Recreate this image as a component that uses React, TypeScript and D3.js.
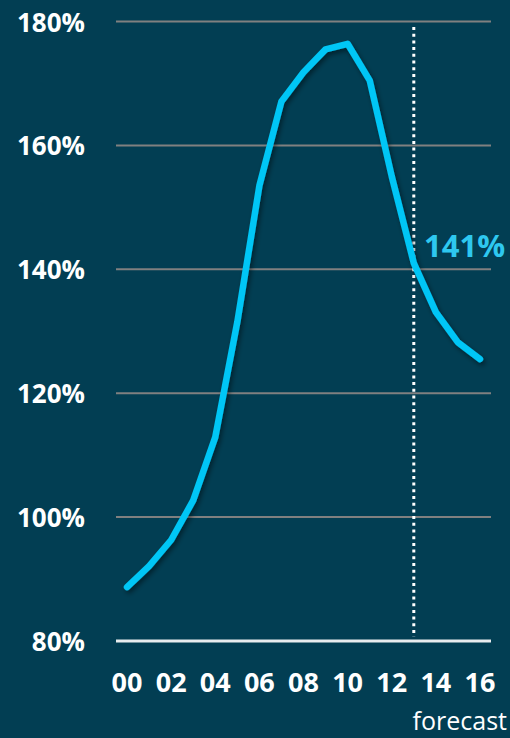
import * as d3 from 'd3'
import React from 'react'

const years = ['00', '01', '02', '03', '04', '05', '06', '07', '08', '09', '10', '11', '12', '13', '14', '15', '16']
const ratio = [88.7, 92.1, 96.3, 102.7, 112.9, 131.5, 153.5, 167.1, 171.8, 175.5, 176.4, 170.5, 155, 141, 133.1, 128.2, 125.5]
const yTicks = [80, 100, 120, 140, 160, 180]
const xLabels = ['00', '02', '04', '06', '08', '10', '12', '14', '16']
const forecastFrom = '13'
const forecastLabel = '141%'

const W = 510
const H = 738

const App = () => {
  const x = d3.scalePoint().domain(years).range([116, 491]).padding(0.5)
  const y = d3.scaleLinear().domain([80, 180]).range([641, 21.5])
  const line = d3
    .line<number>()
    .x((d, i) => x(years[i]))
    .y((d) => y(d))
  const fx = x(forecastFrom)

  return (
    <svg width={W} height={H} style={{ position: 'absolute', left: 0, top: 0 }}>
      <defs>
        <filter id="shadow" x="-20%" y="-20%" width="140%" height="140%">
          <feDropShadow dx="2" dy="3" stdDeviation="2.5" floodColor="#000" floodOpacity="0.45" />
        </filter>
      </defs>
      <rect width={W} height={H} fill="#023e53" />
      {yTicks.map((t) => (
        <g key={t}>
          {t > 80 && <line x1={116} x2={491} y1={y(t)} y2={y(t)} stroke="#808080" strokeWidth={2} />}
          <text
            x={85}
            y={y(t) + 10}
            textAnchor="end"
            fill="#ffffff"
            fontFamily="'Open Sans', sans-serif"
            fontWeight="bold"
            fontSize={26}
          >
            {t}%
          </text>
        </g>
      ))}
      <line x1={fx} x2={fx} y1={27} y2={637} stroke="#ffffff" strokeWidth={3} strokeDasharray="3 3.7" />
      <line x1={116} x2={491} y1={y(80)} y2={y(80)} stroke="#e8ecee" strokeWidth={3} />
      <path
        d={line(ratio)}
        fill="none"
        stroke="#00c6f6"
        strokeWidth={6.5}
        strokeLinecap="round"
        strokeLinejoin="round"
        filter="url(#shadow)"
      />
      <text
        x={424}
        y={257}
        fill="#2ec8f0"
        fontFamily="'Open Sans', sans-serif"
        fontWeight="bold"
        fontSize={31}
      >
        {forecastLabel}
      </text>
      {xLabels.map((l) => (
        <text
          key={l}
          x={x(l)}
          y={692}
          textAnchor="middle"
          fill="#ffffff"
          fontFamily="'Open Sans', sans-serif"
          fontWeight="bold"
          fontSize={27}
        >
          {l}
        </text>
      ))}
      <text x={507} y={730} textAnchor="end" fill="#ffffff" fontFamily="'Open Sans', sans-serif" fontSize={25}>
        forecast
      </text>
    </svg>
  )
}

export default App
